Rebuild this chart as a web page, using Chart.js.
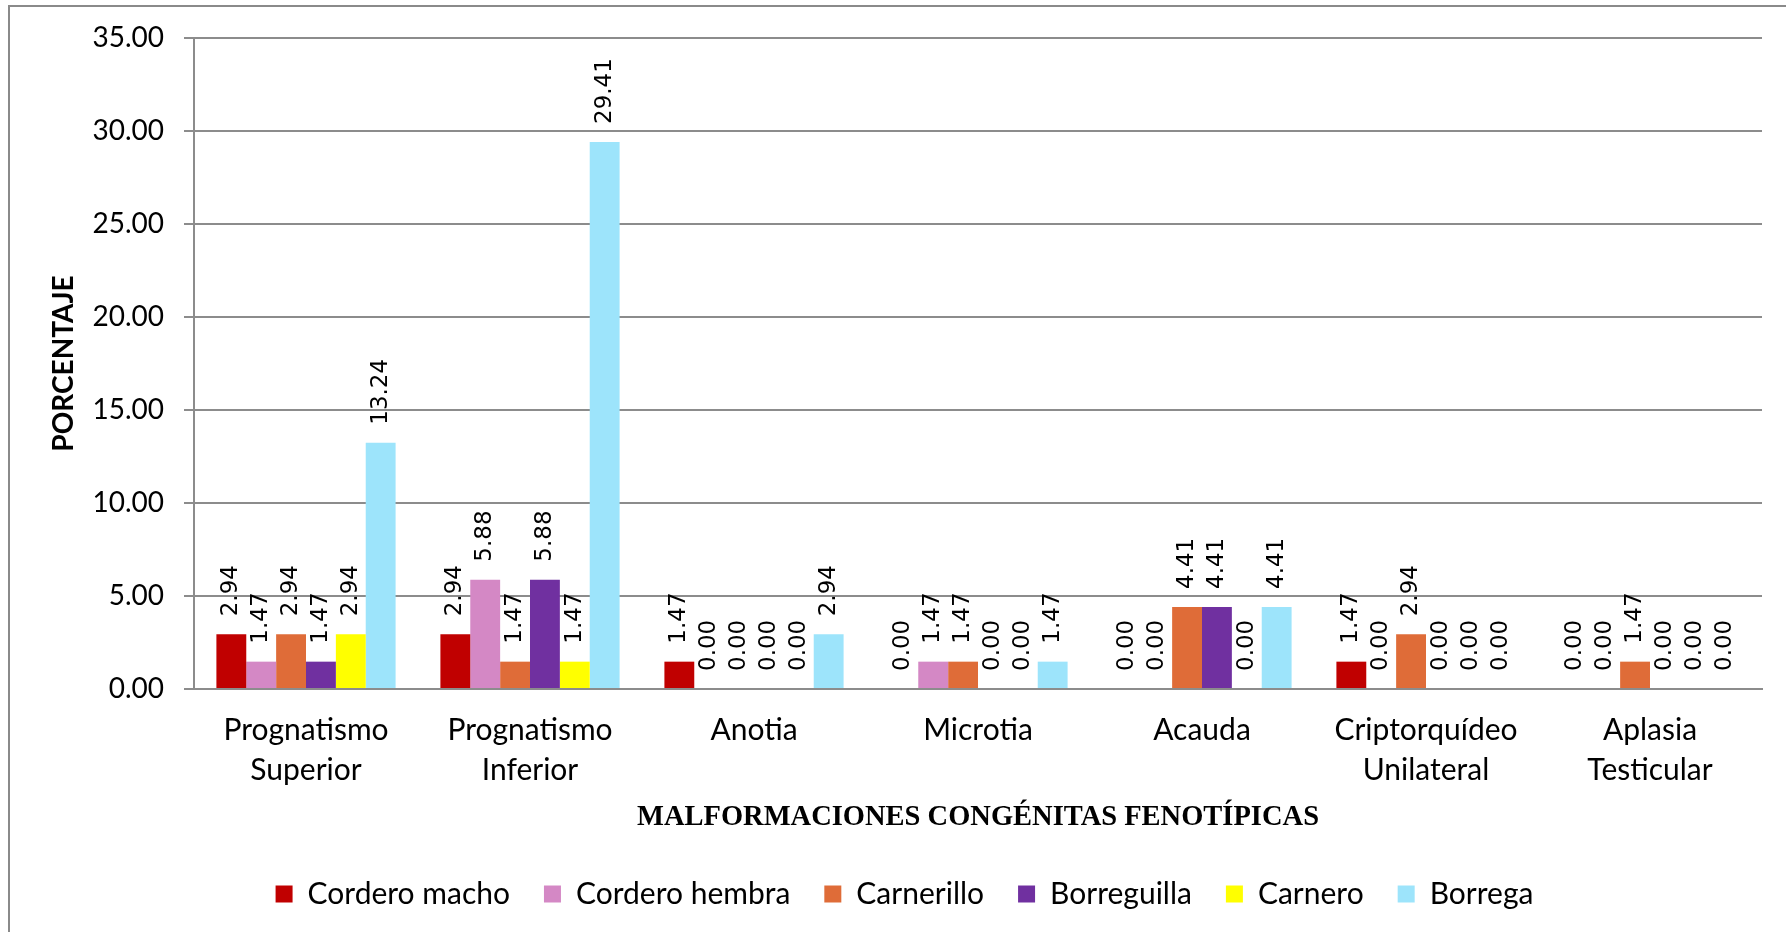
<!DOCTYPE html>
<html lang="es">
<head>
<meta charset="utf-8">
<title>Malformaciones congénitas fenotípicas</title>
<script src="https://cdn.jsdelivr.net/npm/chart.js@4.4.1/dist/chart.umd.min.js"></script>
<style>
  html, body { margin: 0; padding: 0; background: #fff; overflow: hidden; }
  #wrap { position: relative; width: 1786px; height: 932px; }
  #frame {
    position: absolute; left: 8px; top: 5px;
    width: 2000px; height: 2000px;
    border: 2px solid #8a8a8a; box-sizing: border-box;
  }
  #chart { position: absolute; left: 0; top: 0; }
</style>
</head>
<body>
<div id="wrap">
  <div id="frame"></div>
  <canvas id="chart" width="1786" height="932"></canvas>
</div>
<script>
// Data
const categories = [
  ['Prognatismo', 'Superior'],
  ['Prognatismo', 'Inferior'],
  'Anotia',
  'Microtia',
  'Acauda',
  ['Criptorquídeo', 'Unilateral'],
  ['Aplasia', 'Testicular']
];
const corderoMacho   = [2.94, 2.94, 1.47, 0.00, 0.00, 1.47, 0.00];
const corderoHembra  = [1.47, 5.88, 0.00, 1.47, 0.00, 0.00, 0.00];
const carnerillo     = [2.94, 1.47, 0.00, 1.47, 4.41, 2.94, 1.47];
const borreguilla    = [1.47, 5.88, 0.00, 0.00, 4.41, 0.00, 0.00];
const carnero        = [2.94, 1.47, 0.00, 0.00, 0.00, 0.00, 0.00];
const borrega        = [13.24, 29.41, 2.94, 1.47, 4.41, 0.00, 0.00];
const yTicks = [0, 5, 10, 15, 20, 25, 30, 35];

const seriesNames  = ['Cordero macho', 'Cordero hembra', 'Carnerillo', 'Borreguilla', 'Carnero', 'Borrega'];
const seriesData   = [corderoMacho, corderoHembra, carnerillo, borreguilla, carnero, borrega];
const seriesColors = ['#C00000', '#D488C5', '#DF6C38', '#7030A0', '#FFFF00', '#9DE4FB'];

// Vertical value labels above every bar
const barLabels = {
  id: 'barLabels',
  afterDatasetsDraw(chart) {
    const ctx = chart.ctx;
    ctx.save();
    ctx.font = '23px "DejaVu Sans"';
    ctx.fillStyle = '#000';
    ctx.textAlign = 'left';
    ctx.textBaseline = 'middle';
    chart.data.datasets.forEach((ds, i) => {
      chart.getDatasetMeta(i).data.forEach((bar, j) => {
        ctx.save();
        ctx.translate(bar.x, bar.y - 18);
        ctx.rotate(-Math.PI / 2);
        ctx.fillText(ds.data[j].toFixed(2), 0, 0);
        ctx.restore();
      });
    });
    ctx.restore();
  }
};

Chart.defaults.color = '#000';
Chart.defaults.font.family = 'Lato';

const datasets = seriesNames.map((name, i) => ({
  label: name,
  data: seriesData[i],
  backgroundColor: seriesColors[i],
  borderWidth: 0,
  barPercentage: 1,
  categoryPercentage: 0.8
}));

new Chart(document.getElementById('chart'), {
  type: 'bar',
  data: { labels: categories, datasets: datasets },
  plugins: [barLabels],
  options: {
    responsive: false,
    animation: false,
    layout: { padding: { top: 38, right: 24, bottom: 13, left: 47 } },
    plugins: {
      tooltip: { enabled: false },
      legend: {
        position: 'bottom',
        labels: {
          boxWidth: 17,
          boxHeight: 17,
          padding: 34,
          font: { size: 30 }
        }
      }
    },
    scales: {
      x: {
        grid: { display: true, drawOnChartArea: false, drawTicks: false },
        border: { color: '#8c8c8c', width: 2 },
        ticks: { padding: 21, maxRotation: 0, font: { size: 30, lineHeight: 1.35 } },
        title: {
          display: true,
          text: 'MALFORMACIONES CONGÉNITAS FENOTÍPICAS',
          font: { family: 'Liberation Serif', size: 28.5, weight: 'bold' },
          padding: { top: 0, bottom: 10 }
        },
        afterFit(scale) { scale.height = 156; }
      },
      y: {
        min: 0,
        max: 35,
        afterBuildTicks(scale) { scale.ticks = yTicks.map(v => ({ value: v })); },
        grid: { color: '#8c8c8c', lineWidth: 2, tickLength: 10 },
        border: { color: '#8c8c8c', width: 2 },
        ticks: {
          padding: 20,
          font: { size: 28 },
          callback: v => Number(v).toFixed(2)
        },
        title: {
          display: true,
          text: 'PORCENTAJE',
          font: { size: 28, weight: 'bold' },
          padding: { top: 0, bottom: 0 }
        },
        afterFit(scale) { scale.width = 147; }
      }
    }
  }
});
</script>
</body>
</html>
